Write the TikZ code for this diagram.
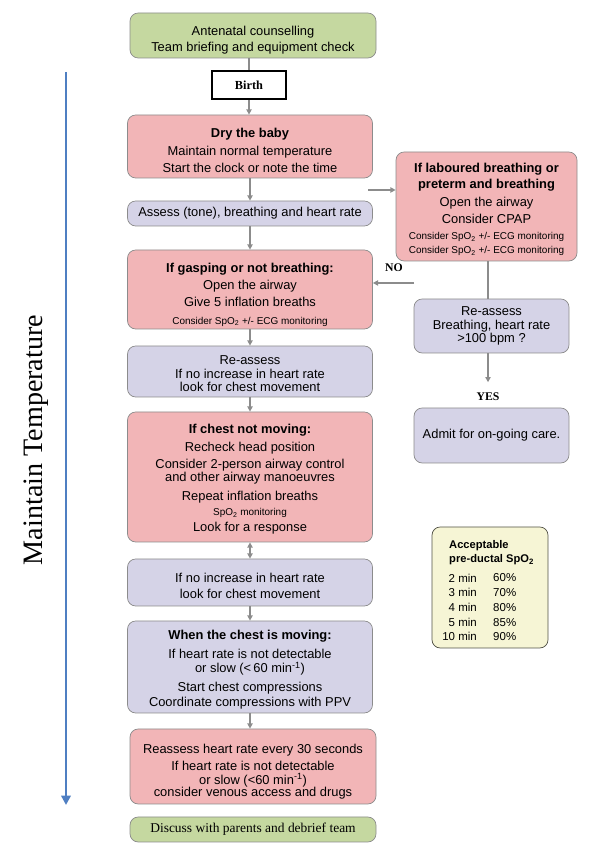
\documentclass[tikz,border=0pt]{standalone}
\usepackage{fontspec}
\setmainfont{Liberation Sans}
\newfontfamily\serifa{Liberation Serif}
\usetikzlibrary{arrows.meta, positioning}
\definecolor{verdino}{HTML}{C5D8A0}
\definecolor{rosa}{HTML}{F2B5B7}
\definecolor{lilla}{HTML}{D5D3E7}
\definecolor{crema}{HTML}{F6F5D5}
\definecolor{bordo}{HTML}{8C8C8C}
\definecolor{blu}{HTML}{4F7FC2}
\newcommand\piccolo{\fontsize{8.5}{10}\selectfont}
\newcommand\giu[1]{\rule{0pt}{#1}}

\begin{document}
\begin{tikzpicture}[
  font=\fontsize{11}{12}\selectfont,
  linea/.style={draw=bordo, line width=1.2pt},
  freccia/.style={linea, -{Triangle[length=4.5pt,width=4.5pt]}},
  doppia/.style={linea, {Triangle[length=4.5pt,width=4.5pt]}-{Triangle[length=4.5pt,width=4.5pt]}},
  scatola/.style={draw=bordo, line width=0.6pt, rounded corners=7pt,
                  align=center, inner sep=2pt, text=black},
  azione/.style={scatola, fill=rosa},
  verifica/.style={scatola, fill=lilla},
  verde/.style={scatola, fill=verdino},
  scritta/.style={font=\serifa\bfseries\fontsize{10}{12}\selectfont, inner sep=2pt}
]
\useasboundingbox (0,0) rectangle (17.85,25.5);

% ---- freccia laterale della temperatura
\coordinate (tempstart) at (1.98,23.34);
\coordinate (tempend) at (1.98,1.35);
\draw[draw=blu, line width=2.5pt, -{Triangle[length=8pt,width=8pt]}] (tempstart) -- (tempend);
\node[rotate=90, font=\serifa\fontsize{24}{28}\selectfont] (temp) at (1.1,12.3) {Maintain Temperature};

% ---- colonna principale ---------------------------------------------
\node[verde, minimum width=7.38cm, minimum height=1.35cm] (top) at (7.59,24.435)
     {\giu{15.6pt}Antenatal counselling\\[1.5pt] Team briefing and equipment check};
\node[draw=black, line width=2.2pt, fill=white, minimum width=2.22cm, minimum height=0.84cm,
      font=\serifa\bfseries\fontsize{10.5}{12}\selectfont] (birth) at (7.47,22.95) {Birth};
\node[azione, minimum width=7.35cm, minimum height=1.89cm] (dry) at (7.5,21.105)
     {\giu{14.8pt}\textbf{Dry the baby}\\[3pt] Maintain normal temperature\\[3pt] Start the clock or note the time};
\node[verifica, minimum width=7.35cm, minimum height=0.75cm] (assess) at (7.5,19.095)
     {Assess (tone), breathing and heart rate};
\node[azione, minimum width=7.35cm, minimum height=2.37cm] (gasp) at (7.5,16.815)
     {\giu{16.6pt}\textbf{If gasping or not breathing:}\\[3pt] Open the airway\\[2.5pt] Give 5 inflation breaths\\[3pt]
      {\piccolo Consider SpO\textsubscript{2} +/- ECG monitoring}};
\node[verifica, minimum width=7.35cm, minimum height=1.53cm] (reass) at (7.5,14.355)
     {\giu{11.4pt}Re-assess\\ If no increase in heart rate\\[-1pt] look for chest movement};
\node[azione, minimum width=7.35cm, minimum height=3.9cm] (chest) at (7.5,11.19)
     {\giu{12.2pt}\textbf{If chest not moving:}\\[3pt] Recheck head position\\[2.5pt] Consider 2-person airway control\\[-1pt]
      and other airway manoeuvres\\[4pt] Repeat inflation breaths\\[1.5pt]
      {\piccolo SpO\textsubscript{2} monitoring}\\[1.5pt] Look for a response};
\node[verifica, minimum width=7.35cm, minimum height=1.41cm] (noinc) at (7.5,8.025)
     {\giu{13.2pt}If no increase in heart rate\\[1.5pt] look for chest movement};
\node[verifica, minimum width=7.35cm, minimum height=2.76cm] (moving) at (7.5,5.49)
     {\giu{12.2pt}\textbf{When the chest is moving:}\\[4pt] If heart rate is not detectable\\[0.5pt]
      or slow (<\,60 min\textsuperscript{-1})\\[4pt] Start chest compressions\\[0.5pt]
      Coordinate compressions with PPV};
\node[azione, minimum width=7.38cm, minimum height=2.25cm] (hr) at (7.59,2.505)
     {\giu{16.6pt}Reassess heart rate every 30 seconds\\[3pt] If heart rate is not detectable\\[-0.5pt]
      or slow (<60 min\textsuperscript{-1})\\[-1.5pt] consider venous access and drugs};
\node[verde, minimum width=7.38cm, minimum height=0.75cm,
      font=\serifa\fontsize{11.5}{13}\selectfont] (discuss) at (7.59,0.615)
     {Discuss with parents and debrief team};

% ---- colonna destra -----------------------------------------------
\node[azione, minimum width=5.43cm, minimum height=3.27cm] (lab) at (14.595,19.305)
     {\giu{13.2pt}\textbf{If laboured breathing or}\\[1.6pt] \textbf{preterm and breathing}\\[3pt]
      Open the airway\\[3pt] Consider CPAP\\[1.5pt]
      {\piccolo Consider SpO\textsubscript{2} +/- ECG monitoring}\\
      {\piccolo Consider SpO\textsubscript{2} +/- ECG monitoring}};
\node[verifica, minimum width=4.65cm, minimum height=1.62cm] (reass2) at (14.745,15.72)
     {Re-assess\\ Breathing, heart rate\\[-1pt] >100 bpm ?};
\node[scritta, inner ysep=9pt] (yes) at (14.64,13.59) {YES};
\node[verifica, minimum width=4.65cm, minimum height=1.65cm] (admit) at (14.745,12.435)
     {Admit for on-going care.};
\node[scritta] (no) at (11.82,17.46) {NO};

% ---- saturazione accettabile ----------------------------------------
\node[scatola, fill=crema, draw=black!45!crema!60!black, minimum width=3.48cm,
      minimum height=3.63cm] (spo) at (14.7,7.875) {};
\node[anchor=west, align=left, inner sep=0pt, font=\bfseries\fontsize{9.5}{12}\selectfont]
     (spohead) at (13.47,8.91) {Acceptable\\ pre-ductal SpO\textsubscript{2}};
\foreach \t/\p [count=\i from 0] in {2/60, 3/70, 4/80, 5/85, 10/90} {
  \node[anchor=east, inner sep=0pt, font=\fontsize{9.8}{12}\selectfont]
       (min\i) at (14.31,8.16-0.441*\i) {\t\ min};
  \node[anchor=west, inner sep=0pt, font=\fontsize{9.8}{12}\selectfont]
       (pct\i) at (14.79,8.16-0.441*\i) {\p\%};
}

% ---- collegamenti ---------------------------------------------------
\draw[linea] (birth.north |- top.south) -- (birth.north);
\draw[freccia] (birth.south) -- (birth.south |- dry.north);
\draw[freccia] (dry) -- (assess);
\draw[freccia] (assess) -- (gasp);
\draw[freccia] (gasp) -- (reass);
\draw[freccia] (reass) -- (chest);
\draw[doppia] (chest) -- (noinc);
\draw[freccia] (noinc) -- (moving);
\draw[freccia] (moving.south) -- (moving.south |- hr.north);

\coordinate (labstart) at (11.04,19.8);
\draw[freccia] (labstart) -- (labstart -| lab.west);
\draw[linea] (lab.south -| yes) -- (reass2.north -| yes);
\draw[freccia] (yes.north |- reass2.south) -- (yes.north);
\coordinate (nostart) at (12.42,17.01);
\draw[freccia] (nostart) -- (nostart -| gasp.east);

\end{tikzpicture}
\end{document}
